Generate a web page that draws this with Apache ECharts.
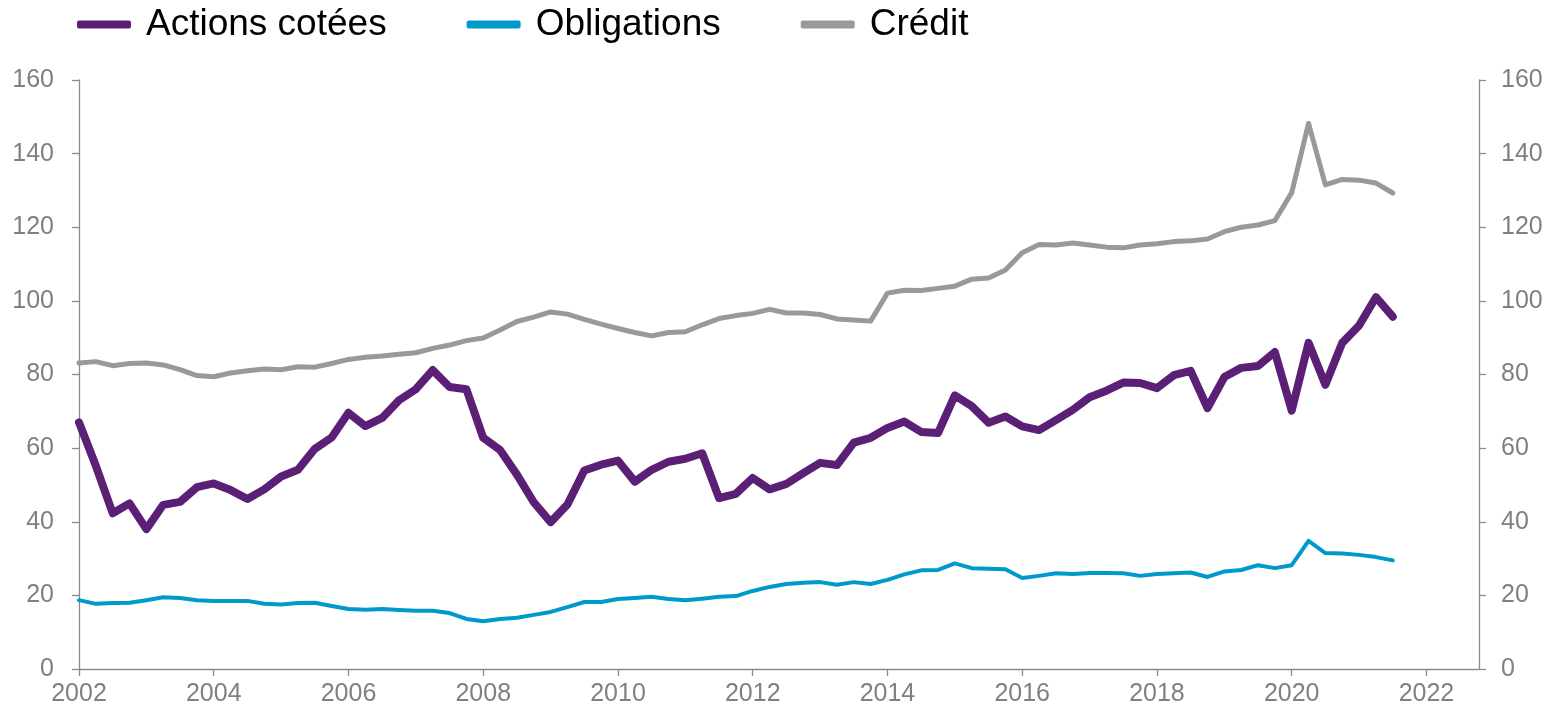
<!DOCTYPE html>
<html>
<head>
<meta charset="utf-8">
<script src="https://cdn.jsdelivr.net/npm/echarts@6/dist/echarts.min.js"></script>
<style>
html,body{margin:0;padding:0;background:#fff;}
#chart{width:1550px;height:711px;}
</style>
</head>
<body>
<div id="chart"></div>
<script>
// Quarterly observations, first quarter = 2002 Q1
const startYear = 2002;
const seriesNames = ['Actions cotées', 'Obligations', 'Crédit'];
const yTicks = [0, 20, 40, 60, 80, 100, 120, 140, 160];
const xTickLabels = ['2002','2004','2006','2008','2010','2012','2014','2016','2018','2020','2022'];

const actions = [
  67.0, 55.2, 42.3, 45.0, 38.0, 44.6, 45.4, 49.4, 50.4, 48.6,
  46.2, 48.8, 52.3, 54.1, 59.8, 62.9, 69.6, 66.0, 68.2, 73.0,
  76.0, 81.2, 76.6, 76.0, 62.8, 59.5, 52.8, 45.3, 39.9, 44.7,
  53.9, 55.5, 56.6, 50.9, 54.1, 56.3, 57.1, 58.6, 46.4, 47.6,
  51.9, 48.8, 50.3, 53.2, 56.0, 55.4, 61.5, 62.8, 65.5, 67.2,
  64.4, 64.1, 74.3, 71.4, 66.9, 68.6, 65.9, 64.9, 67.6, 70.4,
  73.8, 75.6, 77.8, 77.7, 76.3, 79.8, 81.0, 70.9, 79.3, 81.8,
  82.3, 86.1, 70.2, 88.6, 77.2, 88.6, 93.3, 101.0, 95.7
];
const obligations = [
  18.7, 17.7, 17.9, 18.0, 18.7, 19.5, 19.3, 18.7, 18.5, 18.5,
  18.5, 17.7, 17.5, 17.9, 18.0, 17.1, 16.3, 16.1, 16.3, 16.0,
  15.8, 15.8, 15.2, 13.6, 13.0, 13.6, 13.9, 14.7, 15.5, 16.8,
  18.2, 18.2, 19.0, 19.3, 19.6, 19.0, 18.7, 19.1, 19.6, 19.8,
  21.2, 22.3, 23.1, 23.4, 23.6, 22.9, 23.6, 23.1, 24.2, 25.7,
  26.8, 26.9, 28.7, 27.4, 27.2, 27.1, 24.7, 25.3, 26.0, 25.8,
  26.1, 26.1, 26.0, 25.3, 25.8, 26.0, 26.2, 25.0, 26.5, 26.9,
  28.2, 27.4, 28.2, 34.8, 31.5, 31.4, 31.0, 30.4, 29.5
];
const credit = [
  83.1, 83.5, 82.4, 83.0, 83.1, 82.6, 81.3, 79.7, 79.4, 80.4,
  81.0, 81.5, 81.3, 82.1, 82.0, 83.0, 84.1, 84.7, 85.0, 85.5,
  85.9, 87.1, 88.0, 89.2, 89.9, 92.1, 94.4, 95.6, 97.0, 96.4,
  95.0, 93.7, 92.5, 91.4, 90.5, 91.4, 91.6, 93.5, 95.2, 96.0,
  96.6, 97.7, 96.7, 96.7, 96.3, 95.1, 94.8, 94.5, 102.1, 102.9,
  102.8, 103.4, 104.0, 105.9, 106.2, 108.4, 113.1, 115.3, 115.2, 115.7,
  115.2, 114.6, 114.4, 115.2, 115.5, 116.1, 116.3, 116.8, 118.8, 120.0,
  120.6, 121.8, 129.4, 148.2, 131.5, 133.0, 132.8, 132.0, 129.3
];

const toPairs = arr => arr.map((v, i) => [startYear + i / 4, v]);
const colors = ['#5b1f76', '#0099cc', '#999999'];
const widths = [8, 4, 5];
const axisGrey = '#8c8c8c';
const labelGrey = '#808080';
const fontFam = '"Liberation Sans", Arial, sans-serif';

function yAxisDef(position, margin) {
  return {
    type: 'value', position: position,
    min: yTicks[0], max: yTicks[yTicks.length - 1], interval: 20,
    splitLine: { show: false },
    axisLine: { show: true, lineStyle: { color: axisGrey, width: 1.3 } },
    axisTick: { show: true, length: 7, lineStyle: { color: axisGrey, width: 1.3 } },
    axisLabel: { color: labelGrey, fontSize: 25, fontFamily: fontFam, margin: margin }
  };
}

const chart = echarts.init(document.getElementById('chart'));
chart.setOption({
  animation: false,
  backgroundColor: '#ffffff',
  grid: { left: 79, right: 71, top: 80, bottom: 42, containLabel: false },
  legend: {
    top: 1, left: 72,
    itemWidth: 54, itemHeight: 8, itemGap: 80,
    icon: 'roundRect',
    data: seriesNames,
    textStyle: { color: '#000', fontSize: 37, fontFamily: fontFam, padding: [0, 0, 0, 10] }
  },
  xAxis: {
    type: 'value', min: 2002, max: 2022.78, interval: 2,
    splitLine: { show: false },
    axisLine: { show: true, onZero: false, lineStyle: { color: axisGrey, width: 1.3 } },
    axisTick: { show: true, length: 7, lineStyle: { color: axisGrey, width: 1.3 } },
    axisLabel: {
      color: labelGrey, fontSize: 25, fontFamily: fontFam, margin: 13,
      showMaxLabel: false,
      formatter: v => { const s = String(Math.round(v)); return xTickLabels.includes(s) ? s : ''; }
    }
  },
  yAxis: [ yAxisDef('left', 25), yAxisDef('right', 22) ],
  series: [
    { name: seriesNames[0], data: toPairs(actions) },
    { name: seriesNames[1], data: toPairs(obligations) },
    { name: seriesNames[2], data: toPairs(credit) }
  ].map((s, i) => Object.assign({
    type: 'line', yAxisIndex: 0, showSymbol: false, symbol: 'none',
    z: 3 - i,
    itemStyle: { color: colors[i] },
    lineStyle: { color: colors[i], width: widths[i], cap: 'round', join: 'round' }
  }, s))
});
</script>
</body>
</html>
